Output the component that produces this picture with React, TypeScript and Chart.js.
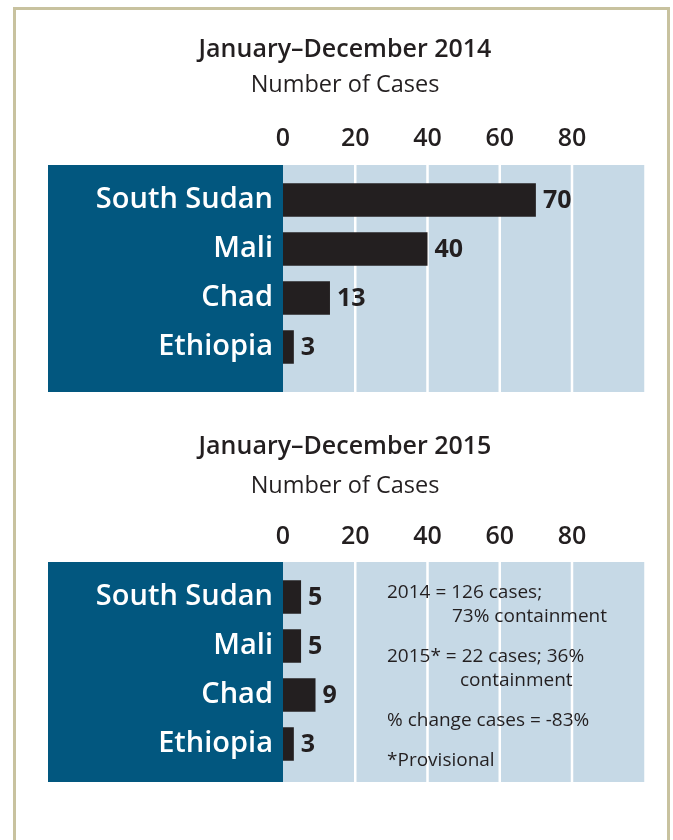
import React, { useEffect, useRef } from 'react';
import { Chart, registerables } from 'chart.js';

Chart.register(...registerables);

// ---------- data ----------
const countries = ['South Sudan', 'Mali', 'Chad', 'Ethiopia'];
const cases2014 = [70, 40, 13, 3];
const cases2015 = [5, 5, 9, 3];
const xTickValues = [0, 20, 40, 60, 80];
const xMax = 100;
const title2014 = 'January–December 2014';
const title2015 = 'January–December 2015';
const axisTitle = 'Number of Cases';
const notes2015 = [
  '2014 = 126 cases;',
  '73% containment',
  '2015* = 22 cases; 36%',
  'containment',
  '% change cases = -83%',
  '*Provisional',
];

// ---------- styles / layout ----------
const FONT = "'Open Sans', 'DejaVu Sans', sans-serif";
const DARK = '#231f20';
const NAVY = '#02577f';
const LIGHT = '#c6d9e6';
const W = 673;
const AREA_LEFT = 283;
const AREA_RIGHT = 644.25;
const AREA_TOP = 175.5;
const AREA_BOTTOM = 371.5;
const PAD_LEFT = 45.75;
const NOTE_LAYOUT = [
  { dx: 104, dy: 25.5 },
  { dx: 169, dy: 49.5 },
  { dx: 104, dy: 89.5 },
  { dx: 177, dy: 113.5 },
  { dx: 104, dy: 153.5 },
  { dx: 104, dy: 193.5 },
];

const panelPlugin = {
  id: 'panel',
  beforeDraw(chart: any, _args: any, opts: any) {
    const { ctx, chartArea: a, scales } = chart;
    const x = scales.x;
    const top = a.top - opts.padTop;
    const bottom = a.bottom + opts.padBottom;
    ctx.save();
    ctx.fillStyle = NAVY;
    ctx.fillRect(opts.panelLeft, top, a.left - opts.panelLeft, bottom - top);
    ctx.fillStyle = LIGHT;
    ctx.fillRect(a.left, top, a.right - a.left, bottom - top);
    ctx.strokeStyle = '#ffffff';
    ctx.lineWidth = 2.5;
    x.ticks.forEach((t: any) => {
      if (t.value <= 0) return;
      const px = x.getPixelForValue(t.value);
      ctx.beginPath();
      ctx.moveTo(px, top);
      ctx.lineTo(px, bottom);
      ctx.stroke();
    });
    ctx.restore();
  },
};

const valueLabelPlugin = {
  id: 'valueLabels',
  afterDatasetsDraw(chart: any) {
    const { ctx } = chart;
    const ds = chart.data.datasets[0];
    const meta = chart.getDatasetMeta(0);
    ctx.save();
    ctx.fillStyle = DARK;
    ctx.font = `700 25px ${FONT}`;
    ctx.textAlign = 'left';
    ctx.textBaseline = 'middle';
    meta.data.forEach((bar: any, i: number) => {
      ctx.fillText(String(ds.data[i]), bar.x + 7, bar.y + 1);
    });
    ctx.restore();
  },
};

const notesPlugin = {
  id: 'notes',
  afterDatasetsDraw(chart: any, _args: any, opts: any) {
    const lines: string[] = opts.lines || [];
    if (!lines.length) return;
    const { ctx, chartArea: a } = chart;
    ctx.save();
    ctx.fillStyle = DARK;
    ctx.font = `400 19px ${FONT}`;
    ctx.textAlign = 'left';
    ctx.textBaseline = 'alphabetic';
    lines.forEach((txt, i) => {
      const l = NOTE_LAYOUT[i];
      ctx.fillText(txt, a.left + l.dx, a.top + l.dy);
    });
    ctx.restore();
  },
};

function makeConfig(
  title: string,
  values: number[],
  height: number,
  subMid: number,
  tickMid: number,
  padBottom: number,
  notes: string[]
): any {
  const titleSize = 25;
  const titleLH = titleSize * 1.2;
  const titleMid = 50;
  const titlePadTop = titleMid - titleLH / 2;
  const titleBottom = titlePadTop + titleLH;
  const subSize = 23.5;
  const subLH = subSize * 1.2;
  const subPadTop = subMid - titleBottom - subLH / 2;
  const subBottom = titleBottom + subPadTop + subLH;
  const xHeight = AREA_TOP - subBottom;
  const tickSize = 25;
  const tickPad = AREA_TOP - (tickSize * 1.2) / 2 - tickMid;

  return {
    type: 'bar',
    data: {
      labels: countries,
      datasets: [
        {
          data: values,
          backgroundColor: DARK,
          borderWidth: 0,
          barPercentage: 0.68,
          categoryPercentage: 1,
        },
      ],
    },
    options: {
      indexAxis: 'y',
      responsive: false,
      maintainAspectRatio: false,
      animation: false,
      events: [],
      layout: {
        padding: {
          left: PAD_LEFT,
          right: W - AREA_RIGHT,
          top: 0,
          bottom: height - AREA_BOTTOM,
        },
      },
      scales: {
        x: {
          type: 'linear',
          position: 'top',
          min: 0,
          max: xMax,
          grid: { display: false, drawTicks: false },
          border: { display: false },
          ticks: {
            color: DARK,
            font: { family: FONT, size: tickSize, weight: 600, lineHeight: 1.2 },
            padding: tickPad,
            maxRotation: 0,
            autoSkip: false,
          },
          afterBuildTicks: (s: any) => {
            s.ticks = xTickValues.map((v) => ({ value: v }));
          },
          afterFit: (s: any) => {
            s.height = xHeight;
          },
        },
        y: {
          type: 'category',
          position: 'left',
          grid: { display: false, drawTicks: false },
          border: { display: false },
          ticks: {
            color: '#ffffff',
            font: { family: FONT, size: 29, weight: 600 },
            padding: 10,
            autoSkip: false,
          },
          afterFit: (s: any) => {
            s.width = AREA_LEFT - PAD_LEFT;
          },
        },
      },
      plugins: {
        legend: { display: false },
        tooltip: { enabled: false },
        title: {
          display: true,
          text: title,
          color: DARK,
          font: { family: FONT, size: titleSize, weight: 600, lineHeight: 1.2 },
          padding: { top: titlePadTop, bottom: 0 },
        },
        subtitle: {
          display: true,
          text: axisTitle,
          color: DARK,
          font: { family: FONT, size: subSize, weight: 400, lineHeight: 1.2 },
          padding: { top: subPadTop, bottom: 0 },
        },
        panel: { panelLeft: 48, padTop: 10.5, padBottom: padBottom },
        notes: { lines: notes },
      },
    },
    plugins: [panelPlugin, valueLabelPlugin, notesPlugin],
  };
}

export default function App() {
  const ref1 = useRef<HTMLCanvasElement | null>(null);
  const ref2 = useRef<HTMLCanvasElement | null>(null);

  useEffect(() => {
    Chart.defaults.font.family = FONT;
    const c1 = new Chart(ref1.current as HTMLCanvasElement, makeConfig(title2014, cases2014, 400, 85, 139, 20.5, []));
    const c2 = new Chart(ref2.current as HTMLCanvasElement, makeConfig(title2015, cases2015, 443, 89.5, 140, 13.5, notes2015));
    return () => {
      c1.destroy();
      c2.destroy();
    };
  }, []);

  return (
    <div
      style={{
        position: 'absolute',
        left: 0,
        top: 0,
        width: W,
        height: 840,
        overflow: 'hidden',
        background: '#ffffff',
      }}
    >
      <div
        style={{
          position: 'absolute',
          left: 13,
          top: 7,
          width: 657,
          height: 900,
          border: '3px solid #c8c29f',
          boxSizing: 'border-box',
        }}
      />
      <canvas
        ref={ref1}
        width={W}
        height={400}
        style={{ position: 'absolute', left: 0, top: 0, display: 'block' }}
      />
      <canvas
        ref={ref2}
        width={W}
        height={443}
        style={{ position: 'absolute', left: 0, top: 397, display: 'block' }}
      />
    </div>
  );
}
